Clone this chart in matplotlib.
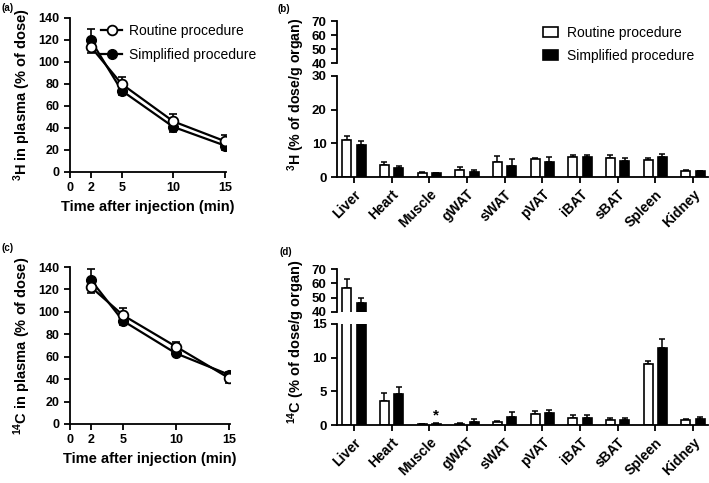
import matplotlib
matplotlib.use('Agg')
import matplotlib.pyplot as plt
import numpy as np
from matplotlib.lines import Line2D
from matplotlib.patches import Patch

plt.rcParams['font.family'] = ['Liberation Sans', 'DejaVu Sans']
plt.rcParams['mathtext.fontset'] = 'custom'
plt.rcParams['mathtext.rm'] = 'Liberation Sans:bold'
plt.rcParams['mathtext.bf'] = 'Liberation Sans:bold'
plt.rcParams['mathtext.it'] = 'Liberation Sans:bold:italic'
plt.rcParams['axes.linewidth'] = 1.3

# ---------------- data ----------------
time_min = [2, 5, 10, 15]
time_ticks = [0, 2, 5, 10, 15]

h3_plasma_routine = [114, 80, 46, 28]
h3_plasma_routine_err_low = [6, 0, 0, 0]
h3_plasma_routine_err_up = [0, 6, 7, 6]
h3_plasma_simplified = [120, 74, 41, 24]
h3_plasma_simplified_err_low = [0, 4, 5, 4]
h3_plasma_simplified_err_up = [10, 0, 0, 0]

c14_plasma_routine = [122, 97, 69, 41]
c14_plasma_routine_err_low = [5, 0, 0, 4]
c14_plasma_routine_err_up = [0, 6, 4, 0]
c14_plasma_simplified = [128, 92, 63, 44]
c14_plasma_simplified_err_low = [0, 4, 2, 0]
c14_plasma_simplified_err_up = [10, 0, 0, 2]

organs = ['Liver', 'Heart', 'Muscle', 'gWAT', 'sWAT', 'pVAT', 'iBAT', 'sBAT', 'Spleen', 'Kidney']

h3_organ_routine = [11.0, 3.7, 1.2, 2.2, 4.6, 5.3, 5.8, 5.7, 5.1, 1.9]
h3_organ_routine_err = [1.2, 0.7, 0.3, 0.9, 1.6, 0.4, 0.8, 0.8, 0.5, 0.2]
h3_organ_simplified = [9.5, 2.7, 1.1, 1.5, 3.2, 4.5, 5.8, 4.9, 5.9, 1.7]
h3_organ_simplified_err = [1.2, 0.7, 0.2, 0.7, 2.0, 1.3, 0.8, 0.8, 0.9, 0.2]

c14_organ_routine = [57, 3.6, 0.1, 0.2, 0.5, 1.6, 1.0, 0.8, 9.1, 0.8]
c14_organ_routine_err = [6, 1.2, 0.05, 0.1, 0.15, 0.45, 0.45, 0.25, 0.4, 0.15]
c14_organ_simplified = [46, 4.6, 0.2, 0.5, 1.2, 1.8, 1.0, 0.8, 11.5, 0.9]
c14_organ_simplified_err = [4, 1.1, 0.05, 0.4, 0.7, 0.5, 0.45, 0.25, 1.3, 0.3]

labels = ['Routine procedure', 'Simplified procedure']

# ---------------- layout ----------------
W, H = 709, 483
fig = plt.figure(figsize=(W / 100, H / 100), dpi=100)


def pos(l, t, r, b):
    return [l / W, 1 - b / H, (r - l) / W, (b - t) / H]


TICKFS = 9
BOLD = 'bold'


def style_line_ax(ax):
    for s in ['top', 'right']:
        ax.spines[s].set_visible(False)
    ax.tick_params(direction='out', length=4, width=1.3, labelsize=TICKFS)
    for t in ax.get_xticklabels() + ax.get_yticklabels():
        t.set_fontweight(BOLD)


def line_panel(ax, r, rl, ru, s, sl, su, ylabel):
    ax.errorbar(time_min, s, yerr=[sl, su], fmt='none', ecolor='k', elinewidth=1.2,
                capsize=3, capthick=1.2, zorder=2)
    ax.errorbar(time_min, r, yerr=[rl, ru], fmt='none', ecolor='k', elinewidth=1.2,
                capsize=3, capthick=1.2, zorder=2)
    ax.plot(time_min, s, color='k', lw=1.6, marker='o', ms=7, mfc='k', mec='k', zorder=3)
    ax.plot(time_min, r, color='k', lw=1.6, marker='o', ms=7, mfc='white', mec='k',
            mew=1.3, zorder=4)
    ax.set_xlim(0, 15.1)
    ax.set_ylim(0, 140)
    ax.set_xticks(time_ticks)
    ax.set_yticks(range(0, 141, 20))
    ax.set_xlabel('Time after injection (min)', fontsize=10.5, fontweight=BOLD, labelpad=4)
    ax.set_ylabel(ylabel, fontsize=10.5, fontweight=BOLD, labelpad=4)
    style_line_ax(ax)


ax_a = fig.add_axes(pos(70, 18, 226, 172))
line_panel(ax_a, h3_plasma_routine, h3_plasma_routine_err_low, h3_plasma_routine_err_up,
           h3_plasma_simplified, h3_plasma_simplified_err_low, h3_plasma_simplified_err_up,
           r'$^{3}$H in plasma (% of dose)')
ax_c = fig.add_axes(pos(70, 267, 230, 424))
line_panel(ax_c, c14_plasma_routine, c14_plasma_routine_err_low, c14_plasma_routine_err_up,
           c14_plasma_simplified, c14_plasma_simplified_err_low, c14_plasma_simplified_err_up,
           r'$^{14}$C in plasma (% of dose)')

h_r = Line2D([], [], color='k', lw=1.6, marker='o', ms=7, mfc='white', mec='k', mew=1.3)
h_s = Line2D([], [], color='k', lw=1.6, marker='o', ms=7, mfc='k', mec='k')
ax_a.legend([h_r, h_s], labels, loc='upper left', bbox_to_anchor=(0.2, 0.96),
            frameon=False, fontsize=10, handlelength=1.5, handletextpad=0.5,
            labelspacing=0.7, borderaxespad=0, borderpad=0)

# ---------------- bar panels ----------------
x = np.arange(len(organs))
BW = 0.24
OFF = 0.19


def draw_bars(ax, r, re, s, se):
    ax.bar(x - OFF, r, BW, color='white', edgecolor='k', lw=1.2, zorder=2)
    ax.bar(x + OFF, s, BW, color='k', edgecolor='k', lw=1.2, zorder=2)
    ax.errorbar(x - OFF, r, yerr=[np.zeros(len(r)), re], fmt='none', ecolor='k',
                elinewidth=1.1, capsize=2.5, capthick=1.1, zorder=1)
    ax.errorbar(x + OFF, s, yerr=[np.zeros(len(s)), se], fmt='none', ecolor='k',
                elinewidth=1.1, capsize=2.5, capthick=1.1, zorder=1)


def bar_panel(lower_pos, upper_pos, r, re, s, se, lower_max, lower_ticks):
    axl = fig.add_axes(lower_pos)
    axu = fig.add_axes(upper_pos)
    for ax in (axl, axu):
        draw_bars(ax, r, re, s, se)
        ax.set_xlim(-0.45, 9.4)
        ax.spines['top'].set_visible(False)
        ax.spines['right'].set_visible(False)
        ax.tick_params(direction='out', length=4, width=1.3, labelsize=9.5)
    axl.set_ylim(0, lower_max)
    axl.set_yticks(lower_ticks)
    axl.set_xticks(x)
    axl.set_xticklabels(organs, rotation=45, ha='right', rotation_mode='anchor',
                        fontsize=10, fontweight=BOLD)
    axu.set_ylim(40, 70)
    axu.set_yticks([40, 50, 60, 70])
    axu.spines['bottom'].set_visible(False)
    axu.set_xticks([])
    for ax in (axl, axu):
        for t in ax.get_yticklabels():
            t.set_fontweight(BOLD)
    return axl, axu


axb_l, axb_u = bar_panel(pos(337, 76, 708, 177), pos(337, 21, 708, 63),
                         h3_organ_routine, h3_organ_routine_err,
                         h3_organ_simplified, h3_organ_simplified_err, 30, [0, 10, 20, 30])
axd_l, axd_u = bar_panel(pos(337, 324, 708, 425), pos(337, 269, 708, 312),
                         c14_organ_routine, c14_organ_routine_err,
                         c14_organ_simplified, c14_organ_simplified_err, 15, [0, 5, 10, 15])

axd_l.text(2 + OFF, 0.45, '*', ha='center', va='bottom', fontsize=11, fontweight=BOLD)

fig.text(296 / W, 1 - 94 / H, r'$^{3}$H (% of dose/g organ)', rotation=90, ha='center',
         va='center', fontsize=10.2, fontweight=BOLD)
fig.text(296 / W, 1 - 342 / H, r'$^{14}$C (% of dose/g organ)', rotation=90, ha='center',
         va='center', fontsize=10.5, fontweight=BOLD)

h_pr = Patch(facecolor='white', edgecolor='k', lw=1.2)
h_ps = Patch(facecolor='k', edgecolor='k', lw=1.2)
fig.legend([h_pr, h_ps], labels, loc='upper left', bbox_to_anchor=(543 / W, 1 - 26 / H),
           frameon=False, fontsize=10, handlelength=1.1, handleheight=0.75,
           handletextpad=0.6, labelspacing=0.65, borderaxespad=0, borderpad=0)

# panel letters
for lx, ly, lab in [(2, 3, '(a)'), (278, 4, '(b)'), (2, 243, '(c)'), (279, 247, '(d)')]:
    fig.text(lx / W, 1 - ly / H, lab, ha='left', va='top', fontsize=7, fontweight=BOLD)

fig.savefig('out.png', dpi=100)
